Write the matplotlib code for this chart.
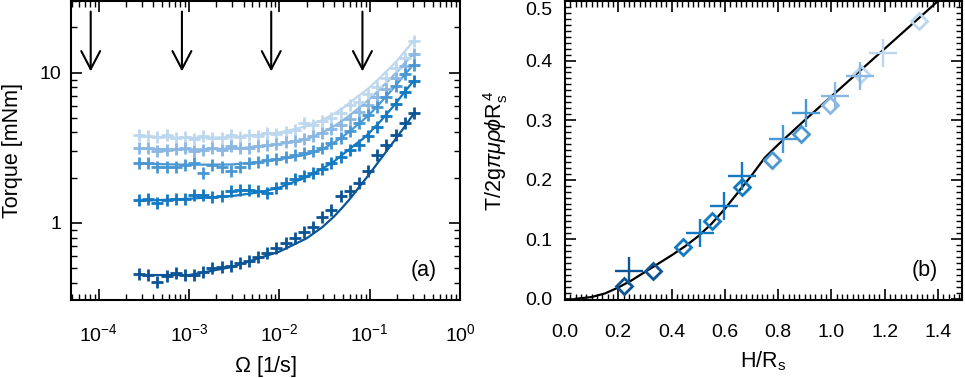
import matplotlib
matplotlib.use("Agg")
import matplotlib.pyplot as plt
from matplotlib.ticker import FixedLocator, LogLocator, NullFormatter, MultipleLocator, FixedFormatter

plt.rcParams['font.family'] = ['Liberation Sans', 'DejaVu Sans']
plt.rcParams['mathtext.fontset'] = 'custom'
plt.rcParams['mathtext.rm'] = 'Liberation Sans'
plt.rcParams['mathtext.it'] = 'Liberation Sans:italic'
plt.rcParams['mathtext.sf'] = 'Liberation Sans'

# ---------------- data: panel (a) ----------------
omega = [2.78e-4, 3.51e-4, 4.44e-4, 5.61e-4, 7.08e-4, 8.94e-4, 1.13e-3, 1.43e-3,
         1.80e-3, 2.28e-3, 2.88e-3, 3.63e-3, 4.59e-3, 5.80e-3, 7.33e-3, 9.26e-3,
         1.17e-2, 1.48e-2, 1.87e-2, 2.36e-2, 2.98e-2, 3.76e-2, 4.75e-2, 6.00e-2,
         7.59e-2, 9.58e-2, 0.121, 0.153, 0.193, 0.244, 0.308]

torque_1 = [0.457, 0.45, 0.406, 0.443, 0.466, 0.45, 0.45, 0.473, 0.499, 0.512, 0.52,
            0.539, 0.56, 0.596, 0.634, 0.68, 0.739, 0.79, 0.875, 0.945, 1.10, 1.22,
            1.50, 1.62, 1.84, 2.20, 2.84, 3.31, 3.86, 4.62, 5.39]
torque_2 = [1.42, 1.44, 1.35, 1.42, 1.44, 1.44, 1.54, 1.54, 1.48, 1.50, 1.62, 1.66,
            1.66, 1.62, 1.59, 1.70, 1.84, 1.96, 2.06, 2.14, 2.30, 2.50, 2.75, 3.05,
            3.30, 3.80, 4.35, 5.15, 6.20, 7.40, 8.80]
torque_3 = [2.52, 2.50, 2.37, 2.35, 2.37, 2.44, 2.50, 2.14, 2.44, 2.37, 2.20, 2.37,
            2.50, 2.56, 2.63, 2.66, 2.75, 2.85, 2.90, 3.00, 3.15, 3.40, 3.65, 4.10,
            4.60, 5.20, 5.90, 6.90, 8.20, 9.80, 11.3]
torque_4 = [3.15, 3.15, 2.99, 3.07, 3.10, 3.15, 2.99, 3.07, 3.15, 3.07, 3.26, 3.15,
            3.15, 3.23, 3.31, 3.36, 3.45, 3.50, 3.62, 3.78, 3.95, 4.20, 4.50, 4.90,
            5.50, 6.10, 6.90, 7.80, 9.20, 11.0, 13.3]
torque_5 = [3.86, 3.80, 3.75, 3.86, 3.70, 3.72, 3.60, 3.78, 3.65, 3.70, 3.82, 3.75,
            3.85, 3.80, 3.95, 3.92, 4.05, 4.15, 4.60, 4.50, 4.75, 5.00, 5.40, 6.10,
            6.40, 7.20, 8.00, 9.20, 10.8, 12.6, 16.2]

fit_omega = [2.8e-4, 1e-3, 3e-3, 6e-3, 1e-2, 2e-2, 3e-2, 4e-2, 5e-2, 6e-2, 7e-2,
             8.5e-2, 0.1, 0.125, 0.15, 0.175, 0.2, 0.25, 0.31]
fit_1 = [0.45, 0.45, 0.51, 0.585, 0.645, 0.79, 0.94, 1.10, 1.27, 1.44, 1.62, 1.88,
         2.13, 2.55, 2.95, 3.34, 3.72, 4.47, 5.38]
fit_2 = [1.40, 1.45, 1.51, 1.60, 1.72, 2.02, 2.30, 2.56, 2.85, 3.10, 3.35, 3.65,
         4.0, 4.6, 5.2, 5.8, 6.4, 7.6, 8.9]
fit_3 = [2.48, 2.44, 2.45, 2.55, 2.65, 2.85, 3.10, 3.42, 3.75, 4.07, 4.40, 4.85,
         5.3, 6.1, 6.9, 7.65, 8.4, 9.9, 11.4]
fit_4 = [3.12, 3.08, 3.12, 3.22, 3.35, 3.60, 4.00, 4.40, 4.80, 5.20, 5.60, 6.15,
         6.7, 7.6, 8.5, 9.3, 10.1, 11.8, 13.4]
fit_5 = [3.75, 3.68, 3.72, 3.85, 4.00, 4.40, 4.85, 5.32, 5.80, 6.30, 6.80, 7.40,
         8.0, 9.05, 10.1, 11.05, 12.0, 14.1, 16.4]

arrow_omega = [8.1e-5, 8.3e-4, 8.1e-3, 8.3e-2]

colors = ['#0b5496', '#1279c2', '#4a98d3', '#8bb8e2', '#bdd7ef']

# ---------------- data: panel (b) ----------------
cross_h = [0.241, 0.507, 0.597, 0.663, 0.820, 0.905, 1.014, 1.107, 1.195]
cross_t = [0.047, 0.110, 0.156, 0.207, 0.268, 0.312, 0.340, 0.374, 0.412]
cross_c = [0, 1, 1, 1, 2, 2, 3, 3, 4]
diam_h = [0.223, 0.332, 0.442, 0.553, 0.666, 0.776, 0.886, 0.995, 1.110, 1.329]
diam_t = [0.021, 0.047, 0.087, 0.131, 0.187, 0.233, 0.277, 0.325, 0.378, 0.467]
diam_c = [0, 0, 1, 1, 1, 2, 2, 3, 4, 4]
model_h = [0.04, 0.1, 0.15, 0.2, 0.25, 0.3, 0.35, 0.4, 0.45, 0.5, 0.55, 0.6, 0.65,
           0.7, 0.75, 0.8, 0.9, 1.0, 1.1, 1.2, 1.3, 1.4, 1.45]
model_t = [0.0, 0.003, 0.009, 0.019, 0.031, 0.045, 0.059, 0.073, 0.088, 0.105, 0.126,
           0.151, 0.179, 0.207, 0.237, 0.259, 0.300, 0.340, 0.380, 0.420, 0.460, 0.500, 0.520]

TICK_FS = 14
LABEL_FS = 15.5

fig = plt.figure(figsize=(9.65, 3.78), dpi=100)
axA = fig.add_axes([71/965, 78/378, 389/965, 299/378])
axB = fig.add_axes([565/965, 78/378, 397/965, 299/378])

# ---- panel a ----
series = [torque_1, torque_2, torque_3, torque_4, torque_5]
fits = [fit_1, fit_2, fit_3, fit_4, fit_5]
for i in range(4, -1, -1):
    axA.plot(fit_omega, fits[i], color=colors[i], lw=1.6, zorder=2)
    axA.plot(omega, series[i], ls='none', marker='+', ms=9, mew=2.0, color=colors[i], zorder=3)

axA.set_xscale('log')
axA.set_yscale('log')
axA.set_xlim(4.9e-5, 1.0)
axA.set_ylim(0.307, 30)
for xa in arrow_omega:
    axA.annotate('', xy=(xa, 10.2), xytext=(xa, 25.5),
                 arrowprops=dict(arrowstyle='->,head_length=0.65,head_width=0.34',
                                 mutation_scale=20, shrinkA=0, shrinkB=0,
                                 color='black', lw=1.5))
axA.yaxis.set_major_locator(FixedLocator([1, 10]))
axA.yaxis.set_major_formatter(FixedFormatter(['1', '10']))
axA.yaxis.set_minor_locator(LogLocator(base=10, subs=range(2, 10)))
axA.yaxis.set_minor_formatter(NullFormatter())
axA.xaxis.set_major_locator(LogLocator(base=10, numticks=10))
axA.xaxis.set_minor_locator(LogLocator(base=10, subs=range(2, 10), numticks=10))
axA.xaxis.set_minor_formatter(NullFormatter())
axA.set_xlabel(r'$\Omega$ [1/s]', fontsize=LABEL_FS, labelpad=6)
axA.set_ylabel('Torque [mNm]', fontsize=LABEL_FS, labelpad=12)
axA.text(0.94, 0.1, '(a)', transform=axA.transAxes, fontsize=LABEL_FS, ha='right', va='center')

# ---- panel b ----
axB.plot(model_h, model_t, color='black', lw=1.6, zorder=2)
for h, t, c in zip(diam_h, diam_t, diam_c):
    axB.plot([h], [t], ls='none', marker='D', ms=8.5, mfc='none', mew=2.0, mec=colors[c], zorder=3)
for h, t, c in zip(cross_h, cross_t, cross_c):
    axB.plot([h], [t], ls='none', marker='+', ms=20, mew=1.7, color=colors[c], zorder=4)
axB.set_xlim(0, 1.49)
axB.set_ylim(-0.002, 0.5)
axB.xaxis.set_major_locator(MultipleLocator(0.2))
axB.xaxis.set_minor_locator(MultipleLocator(0.02))
axB.yaxis.set_major_locator(MultipleLocator(0.1))
axB.yaxis.set_minor_locator(MultipleLocator(0.01))
axB.xaxis.set_major_formatter(plt.FuncFormatter(lambda v, p: f'{v:.1f}'))
axB.yaxis.set_major_formatter(plt.FuncFormatter(lambda v, p: '' if v > 0.45 else f'{abs(v):.1f}'))
axB.text(-0.032, 0.4985, '0.5', transform=axB.get_yaxis_transform(), ha='right', va='top',
         fontsize=TICK_FS)
axB.set_xlabel(r'H/R$_\mathrm{s}$', fontsize=LABEL_FS, labelpad=6)
axB.set_ylabel(r'T/2g$\pi\mu\rho\phi$R$_\mathrm{s}^{\,4}$', fontsize=LABEL_FS, labelpad=11)
axB.text(0.94, 0.1, '(b)', transform=axB.transAxes, fontsize=LABEL_FS, ha='right', va='center')

for ax in (axA, axB):
    ax.tick_params(which='both', direction='in', top=True, right=True, labelsize=TICK_FS)
    ax.tick_params(which='major', length=8, width=1.2)
    ax.tick_params(which='minor', length=4, width=1.0)
    ax.tick_params(axis='x', which='both', pad=17)
    for s in ax.spines.values():
        s.set_linewidth(1.5)
axA.tick_params(axis='y', pad=7)
axB.tick_params(axis='y', pad=9)

fig.savefig('out.png', dpi=100)
